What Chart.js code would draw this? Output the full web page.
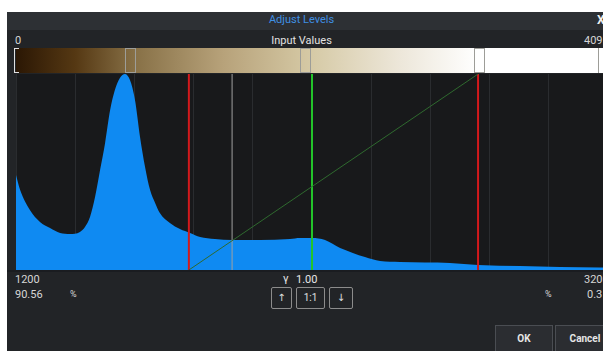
<!DOCTYPE html>
<html>
<head>
<meta charset="utf-8">
<script src="https://cdn.jsdelivr.net/npm/chart.js@4/dist/chart.umd.min.js"></script>
<style>
  html, body { margin: 0; padding: 0; width: 603px; height: 351px; overflow: hidden; background: #ffffff; }
  body { position: relative; font-family: Roboto, "DejaVu Sans", sans-serif; font-size: 11px; color: #d6d6d6; }
  .abs { position: absolute; white-space: nowrap; }
  #dialog { left: 7px; top: 12px; width: 620px; height: 360px; background: #222427; }
  #titlebar { left: 7px; top: 12px; width: 620px; height: 18px; background: #2d3034; }
  #title { left: 0; width: 603px; top: 13px; text-align: center; color: #3f8fe3; font-size: 11px; }
  #close { left: 597px; top: 13px; color: #f0f0f0; font-size: 12px; font-weight: bold; }
  #bar { left: 16px; top: 48px; width: 592px; height: 25px;
         background: linear-gradient(to right, #2b1704 0%, #553813 10%, #877046 20%, #b7a27a 35%, #d6caa6 50%, #ede7da 65%, #ffffff 78%, #ffffff 100%); }
  .handle { top: 48px; width: 9px; height: 23px; border: 1px solid #9d9d98; }
  #bracket { left: 14px; top: 48px; width: 4px; height: 23px; border: 1px solid #e0e0e0; border-right: none; }
  #plot { left: 16px; top: 74px; width: 592px; height: 196px; background: #18191b; }
  #baseline { left: 7px; top: 270px; width: 620px; height: 2px; background: #1a1c20; }
  .btn { border: 1px solid #8c8c8c; border-radius: 2px; height: 20px; top: 287px; text-align: center; line-height: 20px; color: #e0e0e0; font-size: 10px; }
  .big { border: 1px solid #4a4d52; background: #2b2d31; height: 26px; top: 325px; text-align: center; line-height: 26px; color: #e6e6e6; font-weight: bold; font-size: 10px; }
</style>
</head>
<body>
<div id="dialog" class="abs"></div>
<div id="titlebar" class="abs"></div>
<div id="title" class="abs">Adjust Levels</div>
<div id="close" class="abs">X</div>

<div class="abs" style="left:15px; top:34px;">0</div>
<div class="abs" style="left:0; width:603px; top:34px; text-align:center; color:#e2e2e2;">Input Values</div>
<div class="abs" style="left:584px; top:34px;">4095</div>

<div id="bar" class="abs"></div>
<div id="bracket" class="abs"></div>
<div class="abs handle" style="left:125px;"></div>
<div class="abs handle" style="left:300px;"></div>
<div class="abs handle" style="left:474px;"></div>
<div class="abs" style="left:598px; top:48px; width:1px; height:25px; background:#9d9d98;"></div>

<div id="plot" class="abs"><canvas id="hist"></canvas></div>
<div id="baseline" class="abs"></div>

<div class="abs" style="left:15px; top:273px;">1200</div>
<div class="abs" style="left:283px; top:272px; color:#e6e6e6;">&gamma;</div>
<div class="abs" style="left:296px; top:273px; color:#e6e6e6;">1.00</div>
<div class="abs" style="left:584px; top:273px;">3200</div>
<div class="abs" style="left:15px; top:288px;">90.56</div>
<div class="abs" style="left:70px; top:289px; font-size:9px;">%</div>
<div class="abs" style="left:545px; top:289px; font-size:9px;">%</div>
<div class="abs" style="left:587px; top:288px;">0.3</div>

<div class="abs btn" style="left:271px; width:19px;">&uarr;</div>
<div class="abs btn" style="left:296px; width:27px;">1:1</div>
<div class="abs btn" style="left:329px; width:22px;">&darr;</div>

<div class="abs big" style="left:495px; width:56px;">OK</div>
<div class="abs big" style="left:555px; width:58px;">Cancel</div>

<script>
// histogram (intensity -> relative count, 100 = peak)
const intensity = [1200, 1214, 1247, 1281, 1315, 1349, 1382, 1416, 1433, 1450,
                   1467, 1484, 1501, 1518, 1534, 1551, 1568, 1585, 1602, 1619,
                   1636, 1653, 1670, 1686, 1720, 1754, 1788, 1822, 1872, 1930,
                   2024, 2126, 2159, 2200, 2244, 2295, 2338, 2379, 2430, 2497,
                   2666, 2761, 2903, 3038, 3173, 3200];
const counts = [48.5, 40.8, 30.6, 24.5, 21.4, 18.9, 18.4, 19.4, 21.9, 27.0,
                37.2, 51.0, 64.8, 81.6, 91.8, 98.0, 100, 96.9, 86.7, 67.9,
                52.6, 40.8, 34.2, 29.1, 24.0, 20.9, 18.9, 16.8, 15.8, 15.3,
                15.3, 15.8, 16.3, 16.3, 15.3, 11.2, 8.7, 6.6, 4.6, 4.1,
                3.6, 2.6, 2.0, 1.5, 1.3, 1.2];
const xRange = [1200, 3200];
const blackPoint = 1784;
const cursorValue = 1930;
const gammaPoint = 2200;
const whitePoint = 2761;

const vline = (x, color, width) => ({
    data: [{x: x, y: 0}, {x: x, y: 100}],
    borderColor: color, borderWidth: width, pointRadius: 0, fill: false
});

new Chart(document.getElementById('hist'), {
    type: 'line',
    data: {
        datasets: [
            {
                data: [{x: blackPoint, y: 0}, {x: whitePoint, y: 100}],
                borderColor: '#2f6a2f', borderWidth: 1, pointRadius: 0, fill: false
            },
            vline(blackPoint, '#d3191c', 2),
            vline(cursorValue, '#a0a0a0', 1),
            vline(gammaPoint, '#23c42a', 2),
            vline(whitePoint, '#d3191c', 2),
            {
                data: intensity.map((v, i) => ({x: v, y: counts[i]})),
                borderWidth: 0, pointRadius: 0,
                backgroundColor: '#0f8af2', fill: 'origin',
                cubicInterpolationMode: 'monotone'
            }
        ]
    },
    options: {
        responsive: true,
        maintainAspectRatio: false,
        animation: false,
        layout: { padding: 0 },
        plugins: { legend: { display: false }, tooltip: { enabled: false } },
        scales: {
            x: {
                type: 'linear', min: xRange[0], max: xRange[1],
                ticks: { display: false, stepSize: 200 },
                grid: { color: '#2a2c2f', drawTicks: false },
                border: { display: false }
            },
            y: { display: false, min: 0, max: 100 }
        }
    }
});
</script>
</body>
</html>
